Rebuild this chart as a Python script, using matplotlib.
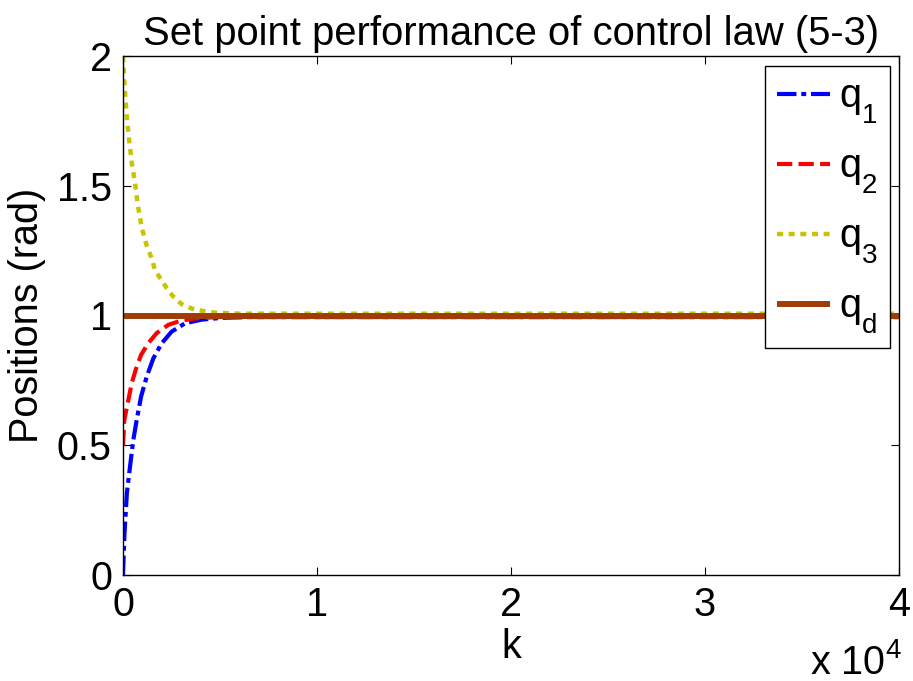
import matplotlib
matplotlib.use("Agg")
import matplotlib.pyplot as plt
from matplotlib.ticker import FuncFormatter, FixedLocator
import matplotlib._mathtext as mathtext_impl

plt.rcParams['font.family'] = ['Liberation Sans', 'DejaVu Sans']
plt.rcParams['mathtext.fontset'] = 'custom'
plt.rcParams['mathtext.rm'] = 'Liberation Sans'
plt.rcParams['mathtext.it'] = 'Liberation Sans'
plt.rcParams['lines.scale_dashes'] = False
# deeper subscripts, as in the legend labels
mathtext_impl.FontConstantsBase.sub1 = 0.75

# Joint position responses (rad) versus iteration k
k_q1 = [0, 77, 200, 360, 530, 705, 930, 1220, 1565, 1995, 2510, 3200, 4060, 5090, 6500, 40000]
q1 = [0.0, 0.16, 0.316, 0.417, 0.52, 0.597, 0.687, 0.764, 0.835, 0.893, 0.938, 0.970, 0.984, 0.991, 0.994, 0.994]

k_q2 = [0, 67, 275, 450, 650, 930, 1300, 1735, 2335, 3020, 3880, 5000, 40000]
q2 = [0.5, 0.597, 0.674, 0.739, 0.790, 0.848, 0.893, 0.932, 0.964, 0.981, 0.990, 0.994, 0.994]

k_q3 = [0, 67, 190, 310, 450, 620, 755, 960, 1220, 1480, 1650, 1905, 2250, 2590, 3020, 3570, 4140, 4740, 6000, 40000]
q3 = [2.0, 1.90, 1.77, 1.68, 1.59, 1.51, 1.43, 1.34, 1.27, 1.22, 1.175, 1.145, 1.106, 1.073, 1.044, 1.026, 1.017, 1.011, 1.007, 1.007]

k_qd = [0, 40000]
qd = [1.0, 1.0]

labels = [r'q$_\mathregular{1}$', r'q$_\mathregular{2}$', r'q$_\mathregular{3}$', r'q$_\mathregular{d}$']
x_ticks = [0, 10000, 20000, 30000, 40000]
y_ticks = [0, 0.5, 1, 1.5, 2]

FS = 28.5
W, H = 913, 681
fig = plt.figure(figsize=(W / 100, H / 100), dpi=100)
ax = fig.add_axes([123 / W, 1 - 575 / H, 776 / W, 519 / H])

ax.plot(k_q1, q1, color='#0000ff', lw=3.0, dashes=(14, 3.5, 3.5, 3.5), label=labels[0])
ax.plot(k_q2, q2, color='#ff0000', lw=3.0, dashes=(11, 4.5), label=labels[1])
ax.plot(k_q3, q3, color='#c8c400', lw=3.2, dashes=(4.3, 4.1), label=labels[2])
ax.plot(k_qd, qd, color='#a03c08', lw=4.3, solid_capstyle='butt', label=labels[3])

ax.set_xlim(0, 40000)
ax.set_ylim(0, 2)
ax.xaxis.set_major_locator(FixedLocator(x_ticks))
ax.yaxis.set_major_locator(FixedLocator(y_ticks))
ax.xaxis.set_major_formatter(FuncFormatter(lambda v, _: f"{v / 1e4:g}"))
ax.yaxis.set_major_formatter(FuncFormatter(lambda v, _: f"{v:g}"))
ax.tick_params(direction='in', length=6, width=0.8, top=True, right=True,
               labelsize=FS, pad=8, colors='black')
for s in ax.spines.values():
    s.set_linewidth(1.0)

ax.set_title('Set point performance of control law (5-3)', fontsize=28.8, pad=8)
ax.set_xlabel('k', fontsize=FS, labelpad=3)
ax.set_ylabel('Positions (rad)', fontsize=FS, labelpad=8)
fig.text(810 / W, 1 - 674 / H, r'x 10$^\mathregular{4}$', fontsize=FS,
         ha='left', va='baseline')

leg = ax.legend(loc='upper left', bbox_to_anchor=(765 / W, 1 - 66 / H),
                bbox_transform=fig.transFigure, borderaxespad=0,
                fancybox=False, framealpha=1, edgecolor='black',
                fontsize=FS, handlelength=1.35, handletextpad=0.22,
                labelspacing=0.54, borderpad=0.3)
leg.get_frame().set_linewidth(1.0)

fig.savefig('out.png', dpi=100)
